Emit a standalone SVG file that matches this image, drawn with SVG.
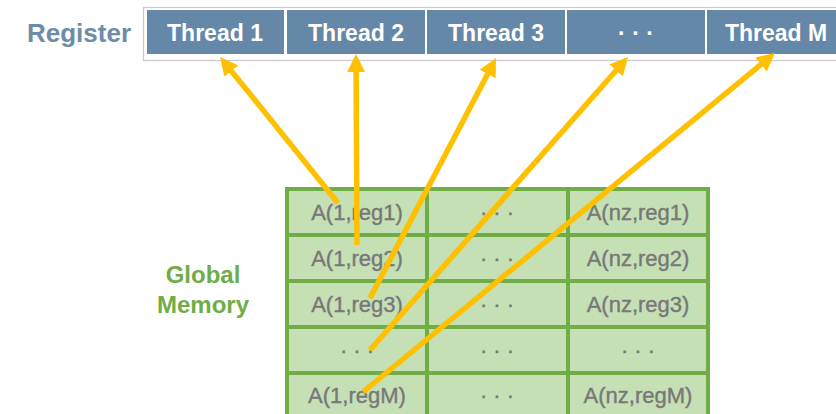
<svg xmlns="http://www.w3.org/2000/svg" width="836" height="414" viewBox="0 0 836 414">
  <style>
    .reg { fill: #6688A8; }
    .thr { font-family: "Liberation Sans", Arial, sans-serif; font-weight: bold; font-size: 23px; fill: #FFFFFF; text-anchor: middle; }
    .cell { fill: #C5E0B4; stroke: #70AD47; stroke-width: 4; }
    .val { font-family: "Liberation Sans", Arial, sans-serif; font-size: 22px; fill: #787878; stroke: #787878; stroke-width: 0.4; text-anchor: middle; }
    .title { font-family: "Liberation Sans", Arial, sans-serif; font-weight: bold; }
    .arrow { stroke: #FFC000; stroke-width: 5.5; fill: none; marker-end: url(#head); }
  </style>
  <defs>
    <marker id="head" markerUnits="userSpaceOnUse" markerWidth="18" markerHeight="18" refX="2" refY="9" orient="auto">
      <path d="M0,0 L18,9 L0,18 Z" fill="#FFC000"/>
    </marker>
  </defs>

  <rect width="836" height="414" fill="#FFFFFF"/>

  <!-- register row -->
  <g id="register">
    <text class="title" x="79" y="42" font-size="26" fill="#6D8CA8" text-anchor="middle">Register</text>
    <rect x="143.5" y="7.5" width="700" height="53" fill="#FFFFFF" stroke="#C9C9C9" stroke-width="1.2"/>
  </g>
  <g id="thread1">
    <rect class="reg" x="147" y="10" width="137" height="44"/>
    <text class="thr" x="215" y="41">Thread 1</text>
  </g>
  <g id="thread2">
    <rect class="reg" x="287" y="10" width="138" height="44"/>
    <text class="thr" x="356" y="41">Thread 2</text>
  </g>
  <g id="thread3">
    <rect class="reg" x="427" y="10" width="138" height="44"/>
    <text class="thr" x="496" y="41">Thread 3</text>
  </g>
  <g id="thread-dots">
    <rect class="reg" x="567" y="10" width="138" height="44"/>
    <text class="thr" x="636" y="41">· · ·</text>
  </g>
  <g id="threadM">
    <rect class="reg" x="707" y="10" width="138" height="44"/>
    <text class="thr" x="776" y="41">Thread M</text>
  </g>

  <!-- global memory label -->
  <g id="global-memory-label">
    <text class="title" x="203" y="283" font-size="24" fill="#70AD47" text-anchor="middle">Global</text>
    <text class="title" x="203" y="313" font-size="24" fill="#70AD47" text-anchor="middle">Memory</text>
  </g>

  <!-- global memory table -->
  <g id="memory-table">
    <rect class="cell" x="287" y="189" width="140" height="46"/>
    <rect class="cell" x="427" y="189" width="141" height="46"/>
    <rect class="cell" x="568" y="189" width="140" height="46"/>
    <rect class="cell" x="287" y="235" width="140" height="46"/>
    <rect class="cell" x="427" y="235" width="141" height="46"/>
    <rect class="cell" x="568" y="235" width="140" height="46"/>
    <rect class="cell" x="287" y="281" width="140" height="46"/>
    <rect class="cell" x="427" y="281" width="141" height="46"/>
    <rect class="cell" x="568" y="281" width="140" height="46"/>
    <rect class="cell" x="287" y="327" width="140" height="46"/>
    <rect class="cell" x="427" y="327" width="141" height="46"/>
    <rect class="cell" x="568" y="327" width="140" height="46"/>
    <rect class="cell" x="287" y="373" width="140" height="46"/>
    <rect class="cell" x="427" y="373" width="141" height="46"/>
    <rect class="cell" x="568" y="373" width="140" height="46"/>

    <text class="val" x="357" y="220">A(1,reg1)</text>
    <text class="val" x="497" y="220">· · ·</text>
    <text class="val" x="638" y="220">A(nz,reg1)</text>
    <text class="val" x="357" y="266">A(1,reg2)</text>
    <text class="val" x="497" y="266">· · ·</text>
    <text class="val" x="638" y="266">A(nz,reg2)</text>
    <text class="val" x="357" y="312">A(1,reg3)</text>
    <text class="val" x="497" y="312">· · ·</text>
    <text class="val" x="638" y="312">A(nz,reg3)</text>
    <text class="val" x="357" y="358">· · ·</text>
    <text class="val" x="497" y="358">· · ·</text>
    <text class="val" x="638" y="358">· · ·</text>
    <text class="val" x="357" y="403">A(1,regM)</text>
    <text class="val" x="497" y="403">· · ·</text>
    <text class="val" x="638" y="403">A(nz,regM)</text>
  </g>

  <!-- loads from memory into each thread's register -->
  <g id="connectors">
    <line class="arrow" x1="338" y1="203" x2="230.1" y2="69.4"/>
    <line class="arrow" x1="357" y1="245" x2="356.1" y2="70"/>
    <line class="arrow" x1="370" y1="298" x2="488.6" y2="72.2"/>
    <line class="arrow" x1="370" y1="350" x2="617.4" y2="69"/>
    <line class="arrow" x1="363" y1="392" x2="762.6" y2="63.2"/>
  </g>
</svg>
